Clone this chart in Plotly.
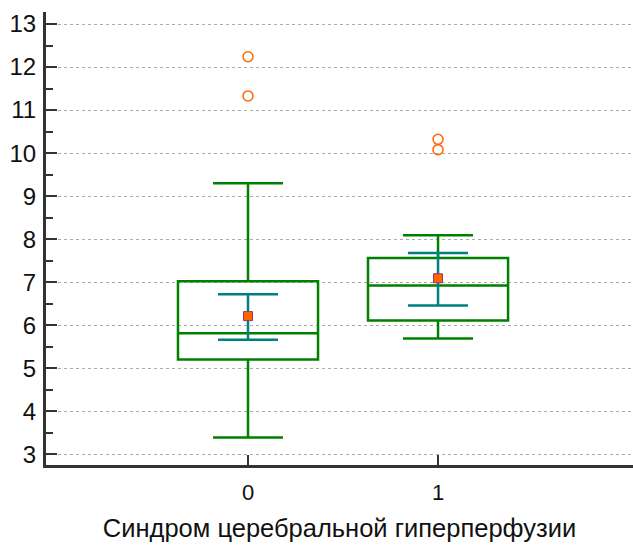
import plotly.graph_objects as go

groups = [0, 1]
q1 = [5.20, 6.11]
median = [5.81, 6.92]
q3 = [7.02, 7.56]
lower_whisker = [3.39, 5.69]
upper_whisker = [9.30, 8.09]
means = [6.21, 7.09]
ci_low = [5.66, 6.46]
ci_high = [6.72, 7.68]
outlier_x = [0, 0, 1, 1]
outlier_y = [12.24, 11.33, 10.32, 10.08]

y_ticks = list(range(3, 14))
x_title = "Синдром церебральной гиперперфузии"

GREEN = "#008000"
TEAL = "#008080"
ORANGE = "#FF6600"
AXIS = "#333333"
FONT = "Liberation Sans, Arial, sans-serif"

fig = go.Figure()

fig.add_trace(go.Box(
    x=groups, q1=q1, median=median, q3=q3,
    lowerfence=lower_whisker, upperfence=upper_whisker,
    width=0.737, whiskerwidth=0.5, boxpoints=False,
    line=dict(color=GREEN, width=2.5), fillcolor="rgba(255,255,255,0)",
    showlegend=False, hoverinfo="skip",
))

fig.add_trace(go.Scatter(
    x=groups, y=means, mode="markers",
    marker=dict(symbol="square", size=9, color=ORANGE, line=dict(color="#993366", width=1)),
    error_y=dict(type="data", symmetric=False,
                 array=[h - m for h, m in zip(ci_high, means)],
                 arrayminus=[m - l for m, l in zip(means, ci_low)],
                 color=TEAL, thickness=2.5, width=30),
    showlegend=False,
))

fig.add_trace(go.Scatter(
    x=outlier_x, y=outlier_y, mode="markers",
    marker=dict(symbol="circle-open", size=10, color=ORANGE, line=dict(color=ORANGE, width=1.5)),
    showlegend=False,
))

fig.update_layout(
    width=633, height=545,
    margin=dict(l=46, r=0, t=12, b=80),
    paper_bgcolor="white", plot_bgcolor="white",
    font=dict(family=FONT, color="#111111"),
    xaxis=dict(
        range=[-1.063, 2.026], tickvals=groups, ticktext=[str(g) for g in groups],
        showline=True, linecolor=AXIS, linewidth=3,
        ticks="inside", ticklen=10, tickwidth=2, tickcolor=AXIS,
        showgrid=False, zeroline=False,
        tickfont=dict(size=22, family=FONT), ticklabelstandoff=6,
        title=dict(text=x_title, font=dict(size=25.5, family=FONT), standoff=15),
    ),
    yaxis=dict(
        range=[2.75, 13.28], tickvals=y_ticks,
        showline=True, linecolor=AXIS, linewidth=3,
        ticks="inside", ticklen=11, tickwidth=2, tickcolor=AXIS,
        tickfont=dict(size=24, family=FONT), ticklabelstandoff=2,
        showgrid=True, gridcolor="#aaaaaa", gridwidth=1, griddash="dot",
        zeroline=False,
        minor=dict(dtick=0.5, ticks="inside", ticklen=7, tickwidth=1.5, tickcolor=AXIS, showgrid=False),
    ),
)

fig.write_html("out.html")
